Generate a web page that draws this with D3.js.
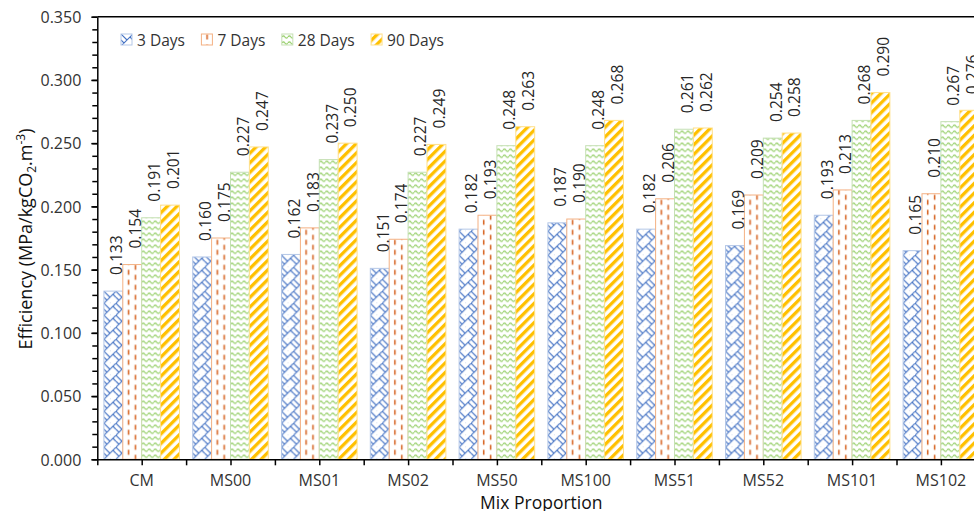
<!DOCTYPE html>
<html>
<head>
<meta charset="utf-8">
<script src="https://cdn.jsdelivr.net/npm/d3@7"></script>
<style>
  body { margin: 0; background: #fff; }
  svg { display: block; }
  text { font-family: "Open Sans", "Noto Sans", sans-serif; }
</style>
</head>
<body>
<svg id="chart" width="974" height="511"></svg>
<script>
// Compressive-strength efficiency per mix, by curing age
const categories = ["CM", "MS00", "MS01", "MS02", "MS50", "MS100", "MS51", "MS52", "MS101", "MS102"];
const seriesNames = ["3 Days", "7 Days", "28 Days", "90 Days"];
const days3  = [0.133, 0.160, 0.162, 0.151, 0.182, 0.187, 0.182, 0.169, 0.193, 0.165];
const days7  = [0.154, 0.175, 0.183, 0.174, 0.193, 0.190, 0.206, 0.209, 0.213, 0.210];
const days28 = [0.191, 0.227, 0.237, 0.227, 0.248, 0.248, 0.261, 0.254, 0.268, 0.267];
const days90 = [0.201, 0.247, 0.250, 0.249, 0.263, 0.268, 0.262, 0.258, 0.290, 0.276];
const yTickValues = [0, 0.05, 0.10, 0.15, 0.20, 0.25, 0.30, 0.35];
const yTitle = { main: "Efficiency (MPa/kgCO", sub: "2", mid: ".m", sup: "-3", end: ")" };
const xTitle = "Mix Proportion";

const seriesValues = [days3, days7, days28, days90];

const svg = d3.select("#chart");
const plot = { left: 97.3, right: 985.3, top: 16.7, bottom: 459.3 };

const x = d3.scaleBand().domain(categories).range([plot.left, plot.right]).paddingInner(0).paddingOuter(0);
const xSub = d3.scaleBand().domain(seriesNames).range([0, x.bandwidth()]).paddingInner(0).paddingOuter(0.35);
const y = d3.scaleLinear().domain([0, 0.35]).range([plot.bottom, plot.top]);

const styles = [
  { line: "#4472C4", edge: "#B4C7E7" },
  { line: "#D8692A", edge: "#F4B183" },
  { line: "#8DCB5C", edge: "#C5E0B4" },
  { line: "#FFC000", edge: "#FFE08A" }
];

const defs = svg.append("defs");

// Pattern builders: each gets an id, origin x/y, and draws its own tile
function makePattern(k, id, ox, oy) {
  const s = styles[k];
  if (k === 0) {
    // woven diagonal lattice
    const p = defs.append("pattern").attr("id", id).attr("patternUnits", "userSpaceOnUse")
      .attr("x", ox).attr("y", oy).attr("width", 12).attr("height", 12);
    p.append("rect").attr("width", 12).attr("height", 12).attr("fill", "#fff");
    p.append("path").attr("d", "M-1,13 L13,-1 M0,0 L6,6 M6,12 L12,18 M12,0 L6,-6 M3,9 L0,6 M9,3 L12,6")
      .attr("stroke", s.line).attr("stroke-width", 1.1).attr("fill", "none");
  } else if (k === 1) {
    // staggered vertical dashes
    const p = defs.append("pattern").attr("id", id).attr("patternUnits", "userSpaceOnUse")
      .attr("x", ox).attr("y", oy).attr("width", xSub.bandwidth()).attr("height", 10);
    p.append("rect").attr("width", xSub.bandwidth()).attr("height", 10).attr("fill", "#fff");
    p.append("path").attr("d", "M5.7,0.5 L5.7,5.5 M12.6,5.5 L12.6,10.5 M12.6,-4.5 L12.6,0.5")
      .attr("stroke", s.line).attr("stroke-width", 1.6).attr("fill", "none");
  } else if (k === 2) {
    // horizontal waves
    const p = defs.append("pattern").attr("id", id).attr("patternUnits", "userSpaceOnUse")
      .attr("x", ox).attr("y", oy).attr("width", 6).attr("height", 6);
    p.append("rect").attr("width", 6).attr("height", 6).attr("fill", "#fff");
    p.append("path").attr("d", "M0,3 Q1.5,0.8 3,3 T6,3")
      .attr("stroke", s.line).attr("stroke-width", 1.1).attr("fill", "none");
  } else {
    // wide upward diagonal stripes
    const p = defs.append("pattern").attr("id", id).attr("patternUnits", "userSpaceOnUse")
      .attr("x", ox).attr("y", oy).attr("width", 6.8).attr("height", 10)
      .attr("patternTransform", "rotate(45)");
    p.append("rect").attr("width", 6.8).attr("height", 10).attr("fill", "#fff");
    p.append("rect").attr("width", 3.3).attr("height", 10).attr("fill", s.line);
  }
}

// Bars
const barData = [];
seriesValues.forEach((vals, k) => {
  vals.forEach((v, i) => {
    barData.push({ k, i, v, cat: categories[i], name: seriesNames[k] });
  });
});

barData.forEach(d => {
  d.x0 = x(d.cat) + xSub(d.name);
  d.id = `pat-${d.k}-${d.i}`;
  makePattern(d.k, d.id, d.x0, plot.bottom);
});

svg.append("g").selectAll("rect").data(barData).join("rect")
  .attr("x", d => d.x0)
  .attr("y", d => y(d.v))
  .attr("width", xSub.bandwidth())
  .attr("height", d => y(0) - y(d.v))
  .attr("fill", d => `url(#${d.id})`)
  .attr("stroke", d => styles[d.k].edge)
  .attr("stroke-width", 1);

// Value labels, rotated above each bar
svg.append("g").selectAll("text").data(barData).join("text")
  .attr("transform", d => `translate(${d.x0 + xSub.bandwidth() / 2 + 8.8},${y(d.v) - 16}) rotate(-90)`)
  .attr("text-anchor", "start")
  .attr("font-size", 15.6)
  .attr("fill", "#262626")
  .text(d => d3.format(".3f")(d.v));

// Plot frame top edge
svg.append("line")
  .attr("x1", plot.left).attr("x2", plot.right)
  .attr("y1", plot.top).attr("y2", plot.top)
  .attr("stroke", "#000").attr("stroke-width", 1.5);

// Y axis: minor and major ticks
const minorTicks = d3.range(0, 36).map(v => v / 100);
const yMinor = svg.append("g").attr("transform", `translate(${plot.left},0)`)
  .call(d3.axisLeft(y).tickValues(minorTicks).tickSize(5).tickFormat(""));
yMinor.select(".domain").remove();
yMinor.selectAll("line").attr("stroke", "#000").attr("stroke-width", 1.5);

const yAxis = svg.append("g").attr("transform", `translate(${plot.left},0)`)
  .call(d3.axisLeft(y).tickValues(yTickValues).tickSize(6).tickSizeOuter(0).tickPadding(10).tickFormat(d3.format(".3f")));
yAxis.select(".domain").attr("stroke", "#000").attr("stroke-width", 1.5);
yAxis.selectAll("line").attr("stroke", "#000").attr("stroke-width", 1.5);
yAxis.selectAll("text").attr("font-size", 16).attr("fill", "#333")
  .attr("font-family", "'Open Sans', sans-serif").attr("dy", "0.36em");

// X axis: ticks at category edges and centres
const xIdx = d3.scaleLinear().domain([0, categories.length]).range([plot.left, plot.right]);
const xAxis = svg.append("g").attr("transform", `translate(0,${plot.bottom})`)
  .call(d3.axisBottom(xIdx).tickValues(d3.range(0, categories.length + 0.25, 0.5)).tickSize(6).tickSizeOuter(0).tickFormat(""));
xAxis.select(".domain").attr("stroke", "#000").attr("stroke-width", 1.5);
xAxis.selectAll("line").attr("stroke", "#000").attr("stroke-width", 1.5);

svg.append("g").selectAll("text").data(categories).join("text")
  .attr("x", d => x(d) + x.bandwidth() / 2)
  .attr("y", 486)
  .attr("text-anchor", "middle")
  .attr("font-size", 16)
  .attr("fill", "#333")
  .text(d => d);

// Axis titles
svg.append("text")
  .attr("x", (plot.left + plot.right) / 2).attr("y", 508.5)
  .attr("text-anchor", "middle").attr("font-size", 17.5).attr("fill", "#111")
  .text(xTitle);

const yt = svg.append("text")
  .attr("transform", `translate(31.5,${(plot.top + plot.bottom) / 2 + 1}) rotate(-90)`)
  .attr("text-anchor", "middle").attr("font-size", 18).attr("fill", "#111");
yt.append("tspan").text(yTitle.main);
yt.append("tspan").attr("dy", 4).attr("font-size", 12).text(yTitle.sub);
yt.append("tspan").attr("dy", -4).text(yTitle.mid);
yt.append("tspan").attr("dy", -7).attr("font-size", 12).text(yTitle.sup);
yt.append("tspan").attr("dy", 7).text(yTitle.end);

// Legend
const legend = svg.append("g");
let lx = 121;
seriesNames.forEach((name, k) => {
  const pid = `leg-${k}`;
  makePattern(k, pid, lx, 34);
  legend.append("rect").attr("x", lx).attr("y", 34).attr("width", 11).attr("height", 11)
    .attr("fill", `url(#${pid})`).attr("stroke", styles[k].edge).attr("stroke-width", 1);
  const t = legend.append("text").attr("x", lx + 16).attr("y", 45.5)
    .attr("font-size", 15.5).attr("fill", "#333").text(name);
  lx = lx + 16 + t.node().getComputedTextLength() + 16.5;
});
</script>
</body>
</html>
